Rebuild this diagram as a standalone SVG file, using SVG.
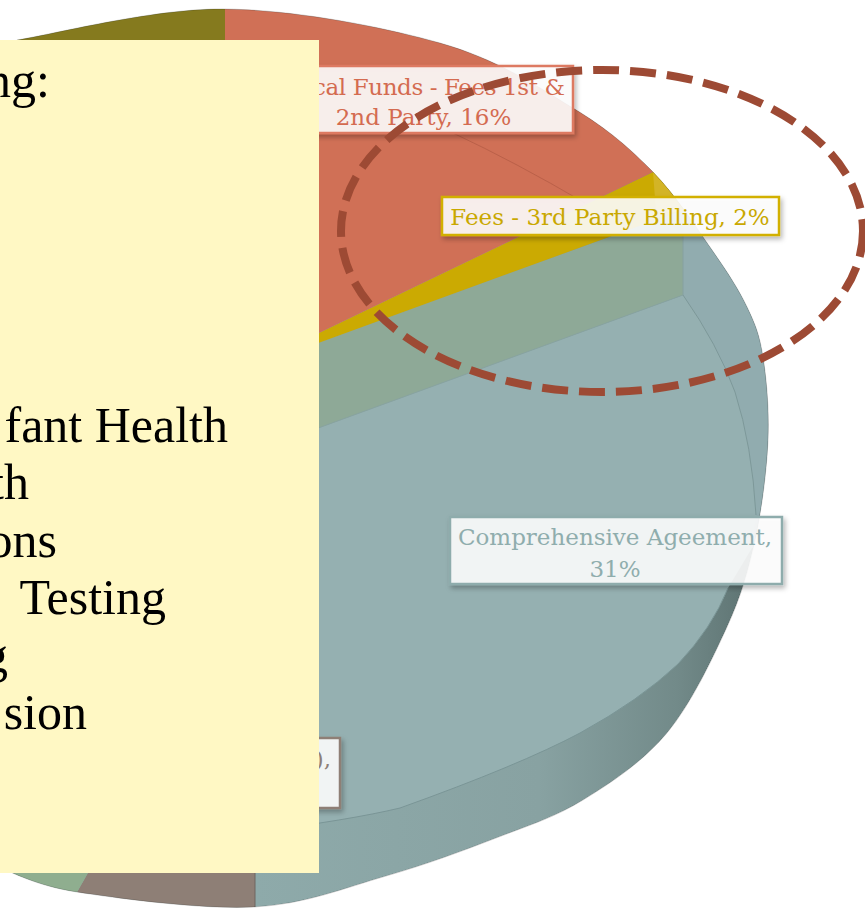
<svg xmlns="http://www.w3.org/2000/svg" width="865" height="909" viewBox="0 0 865 909">
<defs>
<style>
.lbl{font-family:"DejaVu Serif","Liberation Serif",serif;font-size:23px;}
.big{font-family:"Liberation Serif","DejaVu Serif",serif;font-size:50px;fill:#000;}
.box{fill:#ffffff;fill-opacity:0.87;stroke-width:2.5;}
.faint{fill:none;stroke-width:1;}
</style>
<path id="sil" d="M 17,40 C 51.3,34.8 152.5,8.5 223,9 C 293.5,9.5 381.7,26.5 440,43 C 498.3,59.5 537.5,86.5 573,108 C 608.5,129.5 629.8,148.3 653,172 C 676.2,195.7 696.3,227.5 712,250 C 727.7,272.5 738.5,289.2 747,307 C 755.5,324.8 759.5,334.8 763,357 C 766.5,379.2 769.3,409.5 768,440 C 766.7,470.5 761.8,508.8 755,540 C 748.2,571.2 741.7,594.8 727,627 C 712.3,659.2 691,704.2 667,733 C 643,761.8 611.5,782.5 583,800 C 554.5,817.5 528.8,825.3 496,838 C 463.2,850.7 426.3,864.5 386,876 C 345.7,887.5 305.5,904.3 254,907 C 202.5,909.7 119.3,898.5 77,892 C 34.7,885.5 12.8,872 0,868 L -5,866 L -5,60 Z"/>
<clipPath id="pieClip"><use href="#sil"/></clipPath>
<linearGradient id="wallG" gradientUnits="userSpaceOnUse" x1="255" y1="0" x2="770" y2="0">
<stop offset="0" stop-color="#8eaaaa"/>
<stop offset="0.55" stop-color="#88a2a2"/>
<stop offset="0.82" stop-color="#728a89"/>
<stop offset="0.94" stop-color="#617776"/>
<stop offset="1" stop-color="#5a6e6d"/>
</linearGradient>
<filter id="sh" x="-10%" y="-20%" width="125%" height="160%">
<feDropShadow dx="2" dy="3" stdDeviation="2.5" flood-color="#000" flood-opacity="0.3"/>
</filter>
</defs>

<g id="pie">
<g clip-path="url(#pieClip)">
<use href="#sil" fill="url(#wallG)"/>
<polygon points="683,150 800,150 800,548 683,548" fill="#91acaf"/>
<path d="M 683,295 Q 718,345 735,392 Q 752,445 756,515 L 752,548 L 728,588 Q 712,628 678,664 Q 640,700 580,733 Q 520,765 400,808 Q 350,820 255,832 L -5,845 L -5,546 Z" fill="#95b0b1"/>
<polygon points="236,373 683,210 683,295 236,458" fill="#8ea997"/>
<polygon points="236,373 653,172 720,140 720,210 683,210" fill="#cbaa02"/>
<polygon points="653,172 656,212 720,212 720,140" fill="#d3b426"/>
<polygon points="225,-10 760,-10 760,121 653,172 236,373 225,373" fill="#d07056"/>
<polygon points="-10,-10 225,-10 225,373 -10,373" fill="#857a1e"/>
<polygon points="101,850 255,850 255,915 64,915" fill="#8e7f76"/>
<polygon points="-10,850 101,850 64,915 -10,915" fill="#8fae8f"/>
<path class="faint" d="M 453,133 Q 515,162 585,203" stroke="#a04e3a" stroke-opacity="0.45"/>
<path class="faint" d="M 683,295 Q 718,345 735,392 Q 752,445 756,515" stroke="#7d9899"/>
<path class="faint" d="M 728,588 Q 712,628 678,664 Q 640,700 580,733 Q 520,765 400,808 Q 350,820 255,832" stroke="#7a9596"/>
<line x1="683" y1="210" x2="683" y2="295" stroke="#86a0a0" stroke-width="1"/>
<line x1="683" y1="295" x2="236" y2="458" stroke="#88a3a0" stroke-width="1"/>
<line x1="255" y1="850" x2="255" y2="915" stroke="#6f6660" stroke-width="1"/>
</g>
<use href="#sil" fill="none" stroke="#000" stroke-opacity="0.18" stroke-width="1"/>
</g>

<g id="labels">
<g id="label-local">
<rect class="box" x="270" y="66" width="303" height="67" stroke="#dd7a62" filter="url(#sh)"/>
<text class="lbl" x="313" y="95" textLength="252" lengthAdjust="spacing" fill="#d46b50">cal Funds - Fees 1st &amp;</text>
<text class="lbl" x="423.5" y="125" text-anchor="middle" fill="#d46b50">2nd Party, 16%</text>
</g>
<g id="label-fees3rd">
<rect class="box" x="442" y="197" width="337" height="38" stroke="#d2b000" stroke-width="3" filter="url(#sh)"/>
<text class="lbl" x="610" y="225" text-anchor="middle" fill="#c9a800">Fees - 3rd Party Billing, 2%</text>
</g>
<g id="label-comprehensive">
<rect class="box" x="450" y="517" width="332" height="67" stroke="#8eacac" filter="url(#sh)"/>
<text class="lbl" x="615" y="545" text-anchor="middle" fill="#8fadad">Comprehensive Ageement,</text>
<text class="lbl" x="615" y="577" text-anchor="middle" fill="#8fadad">31%</text>
</g>
<g id="label-brown">
<rect class="box" x="270" y="738" width="70" height="70" stroke="#8e7f76" filter="url(#sh)"/>
<text class="lbl" x="331" y="767" text-anchor="end" fill="#8e7f76">),</text>
</g>
</g>

<g id="highlight">
<ellipse cx="602" cy="231" rx="261" ry="161" fill="none" stroke="#9d4a34" stroke-width="8" stroke-dasharray="26 11"/>
</g>

<g id="note-box">
<rect x="-5" y="40" width="324" height="833" fill="#fff8c4"/>
<text class="big" x="50" y="97" text-anchor="end">ng:</text>
<text class="big" x="228" y="442" text-anchor="end">fant Health</text>
<text class="big" x="29" y="499" text-anchor="end">th</text>
<text class="big" x="57" y="557" text-anchor="end">ons</text>
<text class="big" x="166" y="614" text-anchor="end">Testing</text>
<text class="big" x="8" y="672" text-anchor="end">g</text>
<text class="big" x="87" y="729" text-anchor="end">sion</text>
</g>
</svg>
